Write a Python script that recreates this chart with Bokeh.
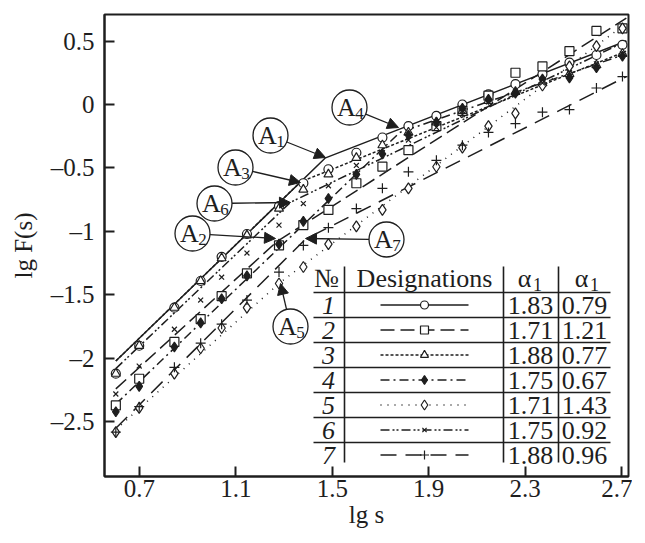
import math
from bokeh.plotting import figure
from bokeh.models import Range1d, FixedTicker, Arrow, NormalHead
from bokeh.core.properties import value
from bokeh.embed import file_html
from bokeh.resources import INLINE

# ---------------- data ----------------
lg_s = [0.602, 0.699, 0.845, 0.954, 1.041, 1.146, 1.279, 1.380, 1.484, 1.600,
        1.708, 1.816, 1.932, 2.040, 2.148, 2.260, 2.372, 2.484, 2.596, 2.704]

A1_lgF = [-2.12, -1.90, -1.60, -1.39, -1.20, -1.02, -0.80, -0.62, -0.51, -0.38,
          -0.26, -0.17, -0.09, 0.00, 0.08, 0.16, 0.24, 0.33, 0.39, 0.47]
A2_lgF = [-2.37, -2.16, -1.87, -1.69, -1.51, -1.33, -1.11, -0.95, -0.83, -0.62,
          -0.49, -0.36, -0.17, -0.05, 0.07, 0.25, 0.30, 0.42, 0.58, 0.60]
A3_lgF = [-2.12, -1.90, -1.60, -1.39, -1.21, -1.03, -0.82, -0.67, -0.55, -0.42,
          -0.32, -0.22, -0.14, -0.05, 0.03, 0.10, 0.17, 0.24, 0.31, 0.40]
A4_lgF = [-2.42, -2.22, -1.91, -1.72, -1.53, -1.35, -1.10, -0.92, -0.74, -0.55,
          -0.39, -0.24, -0.14, -0.03, 0.04, 0.09, 0.20, 0.21, 0.29, 0.38]
A5_lgF = [-2.58, -2.39, -2.12, -1.92, -1.76, -1.60, -1.41, -1.28, -1.10, -0.96,
          -0.83, -0.66, -0.49, -0.34, -0.17, -0.07, 0.15, 0.30, 0.46, 0.60]
A6_lgF = [-2.28, -2.06, -1.77, -1.54, -1.36, -1.17, -0.95, -0.78, -0.64, -0.48,
          -0.38, -0.28, -0.18, -0.08, 0.02, 0.10, 0.17, 0.25, 0.32, 0.40]
A7_lgF = [-2.58, -2.38, -2.07, -1.88, -1.73, -1.54, -1.32, -1.11, -0.97, -0.82,
          -0.66, -0.53, -0.44, -0.32, -0.22, -0.15, -0.06, -0.04, 0.13, 0.22]

# two-slope fits (start, crossover, end)
A1_fit_x = [0.602, 1.472, 2.72]; A1_fit_y = [-2.02, -0.42, 0.50]
A2_fit_x = [0.602, 1.270, 2.72]; A2_fit_y = [-2.24, -1.08, 0.68]
A3_fit_x = [0.602, 1.368, 2.72]; A3_fit_y = [-2.02, -0.61, 0.42]
A4_fit_x = [0.602, 1.780, 2.72]; A4_fit_y = [-2.36, -0.22, 0.40]
A5_fit_x = [0.602, 1.285, 2.72]; A5_fit_y = [-2.56, -1.40, 0.64]
A6_fit_x = [0.602, 1.327, 2.72]; A6_fit_y = [-2.08, -0.77, 0.50]
A7_fit_x = [0.602, 1.389, 2.72]; A7_fit_y = [-2.55, -1.06, 0.22]

row_numbers = ["1", "2", "3", "4", "5", "6", "7"]
alpha_1 = ["1.83", "1.71", "1.88", "1.75", "1.71", "1.75", "1.88"]
alpha_2 = ["0.79", "1.21", "0.77", "0.67", "1.43", "0.92", "0.96"]
curve_labels = ["1", "2", "3", "4", "5", "6", "7"]

x_ticks = [0.7, 1.1, 1.5, 1.9, 2.3, 2.7]
x_tick_labels = ["0.7", "1.1", "1.5", "1.9", "2.3", "2.7"]
y_ticks = [-2.5, -2.0, -1.5, -1.0, -0.5, 0.0, 0.5]
y_tick_labels = ["\u20132.5", "\u20132", "\u20131.5", "\u20131", "\u20130.5", "0", "0.5"]
x_title = "lg s"
y_title = "lg F(s)"

series_y = [A1_lgF, A2_lgF, A3_lgF, A4_lgF, A5_lgF, A6_lgF, A7_lgF]
fits = [(A1_fit_x, A1_fit_y), (A2_fit_x, A2_fit_y), (A3_fit_x, A3_fit_y),
        (A4_fit_x, A4_fit_y), (A5_fit_x, A5_fit_y), (A6_fit_x, A6_fit_y),
        (A7_fit_x, A7_fit_y)]

# ---------------- styles ----------------
INK = "#1e1e1e"
FONT = "Liberation Serif"
styles = [
    dict(dash="solid", marker="circle", size=9, fill="white"),
    dict(dash="14 6", marker="square", size=9, fill="white"),
    dict(dash="3 2", marker="triangle", size=9, fill="white"),
    dict(dash="9 4 2 4", marker="diamond", size=10, fill=INK),
    dict(dash="1 6", marker="diamond", size=11, fill="white"),
    dict(dash="9 3 2 2 2 3", marker="x", size=7, fill=None),
    dict(dash="16 9", marker="cross", size=10, fill=None),
]

XR = (0.555, 2.729)
YR = (-2.93, 0.709)
W, H = 632, 535
ML, MR, MT, MB = 104, 4, 14, 59

p = figure(width=W, height=H, x_range=Range1d(*XR), y_range=Range1d(*YR),
           output_backend="svg", toolbar_location=None, title=None,
           min_border_left=ML, min_border_right=MR, min_border_top=MT,
           min_border_bottom=MB)
p.grid.visible = False
p.outline_line_color = INK
p.outline_line_width = 2
p.background_fill_color = "white"

p.xaxis.ticker = FixedTicker(ticks=x_ticks)
p.xaxis.major_label_overrides = dict(zip(x_ticks, x_tick_labels))
p.yaxis.ticker = FixedTicker(ticks=y_ticks)
p.yaxis.major_label_overrides = dict(zip(y_ticks, y_tick_labels))
p.xaxis.axis_label = x_title
p.yaxis.axis_label = y_title
for ax in (p.xaxis[0], p.yaxis[0]):
    ax.major_tick_in = 10
    ax.major_tick_out = 0
    ax.minor_tick_in = 0
    ax.minor_tick_out = 0
    ax.axis_line_width = 2
    ax.axis_line_color = INK
    ax.major_tick_line_width = 2
    ax.major_tick_line_color = INK
    ax.major_label_text_font = FONT
    ax.major_label_text_font_size = "25px"
    ax.major_label_text_color = INK
    ax.axis_label_text_font = FONT
    ax.axis_label_text_font_size = "25px"
    ax.axis_label_text_font_style = "normal"
    ax.axis_label_text_color = INK
p.xaxis.major_label_standoff = 3
p.yaxis.major_label_standoff = 10
p.xaxis.axis_label_standoff = 1
p.yaxis.axis_label_standoff = 11

# picture pixel -> data helpers, for annotation placement
FX0, FX1 = ML, W - MR
FY0, FY1 = MT, H - MB
def dx(X):
    return XR[0] + (X - FX0) / (FX1 - FX0) * (XR[1] - XR[0])
def dy(Y):
    return YR[1] - (Y - FY0) / (FY1 - FY0) * (YR[1] - YR[0])

# ---------------- curves ----------------
for (fx, fy), st in zip(fits, styles):
    p.line(fx, fy, line_color=INK, line_width=1.5, line_dash=st["dash"])
for ys, st in zip(series_y, styles):
    p.scatter(lg_s, ys, marker=st["marker"], size=st["size"],
              fill_color=st["fill"], line_color=INK, line_width=1.2)

# ---------------- circled labels with arrows ----------------
callouts = [((270, 135), (325, 157)), ((192, 233), (275, 238)),
            ((235, 167), (300, 182)), ((349, 107), (398, 127)),
            ((290, 326), (280, 283)), ((214, 203), (290, 202)),
            ((386, 239), (305, 238))]
R = 17.5
for lab, ((cx, cy), (tx, ty)) in zip(curve_labels, callouts):
    ddx, ddy = tx - cx, ty - cy
    L = math.hypot(ddx, ddy)
    sx, sy = cx + R * ddx / L, cy + R * ddy / L
    p.add_layout(Arrow(end=NormalHead(size=11, fill_color=INK, line_color=INK),
                       x_start=dx(sx), y_start=dy(sy), x_end=dx(tx), y_end=dy(ty),
                       line_color=INK, line_width=1.3))
    p.scatter([dx(cx)], [dy(cy)], marker="circle", size=2 * R,
              fill_color="white", line_color=INK, line_width=1.3)
    p.text([dx(cx - 3)], [dy(cy)], text=["A"], text_font=value(FONT),
           text_font_size=value("26px"), text_align="center",
           text_baseline="middle", text_color=INK)
    p.text([dx(cx + 10)], [dy(cy + 6)], text=[lab], text_font=value(FONT),
           text_font_size=value("17px"), text_align="center",
           text_baseline="middle", text_color=INK)

# ---------------- table ----------------
TL, TR = 313, 610
TT, TB = 266, 462
hlines = [292 + 25 * k for k in range(7)]
vlines = [344, 503, 558]
p.segment(x0=[dx(TL)] * len(hlines), y0=[dy(h) for h in hlines],
          x1=[dx(TR)] * len(hlines), y1=[dy(h) for h in hlines],
          line_color=INK, line_width=1.6)
p.segment(x0=[dx(v) for v in vlines], y0=[dy(TT)] * 3,
          x1=[dx(v) for v in vlines], y1=[dy(TB)] * 3,
          line_color=INK, line_width=1.6)

TFS = value("26px")
HY = 278
p.text([dx(326)], [dy(HY)], text=["\u2116"], text_font=value(FONT), text_font_size=TFS,
       text_align="center", text_baseline="middle", text_color=INK)
p.text([dx(424)], [dy(HY)], text=["Designations"], text_font=value(FONT),
       text_font_size=TFS, text_align="center", text_baseline="middle", text_color=INK)
for ax_c in (524, 581):
    p.text([dx(ax_c)], [dy(HY)], text=["\u03b1"], text_font=value(FONT),
           text_font_size=TFS, text_align="center", text_baseline="middle", text_color=INK)
    p.text([dx(ax_c + 13)], [dy(HY + 6)], text=["1"], text_font=value(FONT),
           text_font_size=value("18px"), text_align="center", text_baseline="middle",
           text_color=INK)

row_y = [dy(304.5 + 25 * i) for i in range(7)]
p.text([dx(328)] * 7, row_y, text=row_numbers, text_font=value(FONT), text_font_size=TFS,
       text_font_style="italic", text_align="center", text_baseline="middle", text_color=INK)
p.text([dx(530)] * 7, row_y, text=alpha_1, text_font=value(FONT), text_font_size=TFS,
       text_align="center", text_baseline="middle", text_color=INK)
p.text([dx(584)] * 7, row_y, text=alpha_2, text_font=value(FONT), text_font_size=TFS,
       text_align="center", text_baseline="middle", text_color=INK)
for yy, st in zip(row_y, styles):
    p.line([dx(380), dx(468)], [yy, yy], line_color=INK, line_width=1.5, line_dash=st["dash"])
    p.scatter([dx(424)], [yy], marker=st["marker"], size=st["size"] - 1,
              fill_color=st["fill"], line_color=INK, line_width=1.2)

open("out.html", "w").write(file_html(p, INLINE))
